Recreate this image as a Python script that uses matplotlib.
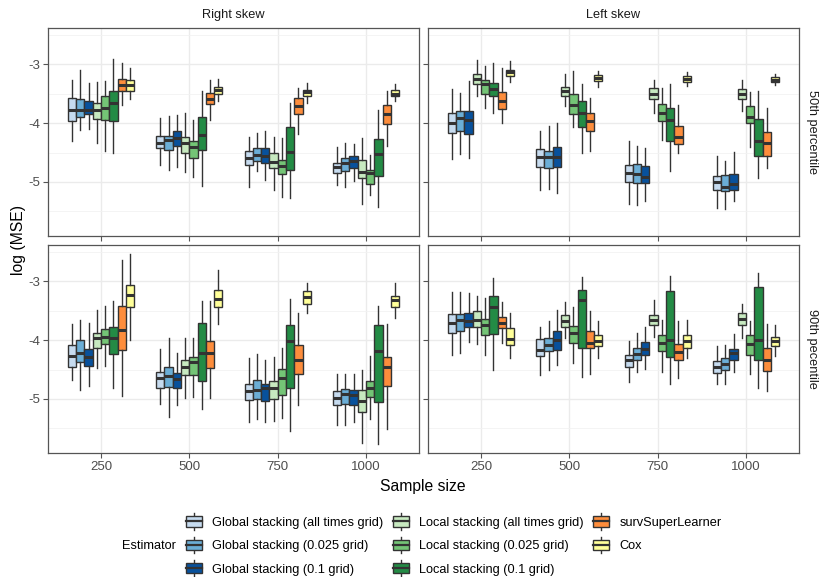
import matplotlib
matplotlib.use("Agg")
import matplotlib.pyplot as plt
from matplotlib.legend_handler import HandlerBase
from matplotlib.patches import Rectangle, Patch
from matplotlib.lines import Line2D
import numpy as np

plt.rcParams['font.family'] = ['Liberation Sans', 'DejaVu Sans']

sizes = ["250", "500", "750", "1000"]
estimators = ["Global stacking (all times grid)", "Global stacking (0.025 grid)",
              "Global stacking (0.1 grid)", "Local stacking (all times grid)",
              "Local stacking (0.025 grid)", "Local stacking (0.1 grid)",
              "survSuperLearner", "Cox"]
colors = ["#c6dbef", "#6baed6", "#08519c", "#c7e9c0", "#74c476", "#238b45",
          "#fd8d3c", "#ffff99"]
skews = ["Right skew", "Left skew"]
percentiles = ["50th percentile", "90th pecentile"]

# ---- Right skew, 50th percentile (rows: sample sizes, cols: estimators)
rs50_whishi = [[-3.27, -3.10, -3.31, -3.30, -3.29, -2.90, -2.98, -3.06],
               [-3.91, -3.87, -3.86, -3.83, -3.94, -3.45, -3.27, -3.24],
               [-4.24, -4.17, -4.13, -4.24, -4.25, -3.66, -3.40, -3.31],
               [-4.41, -4.33, -4.35, -4.25, -4.54, -3.77, -3.45, -3.34]]
rs50_q3 = [[-3.57, -3.58, -3.62, -3.65, -3.54, -3.46, -3.25, -3.27],
           [-4.22, -4.22, -4.14, -4.23, -4.30, -3.90, -3.49, -3.38],
           [-4.47, -4.42, -4.43, -4.50, -4.62, -4.07, -3.57, -3.43],
           [-4.67, -4.60, -4.56, -4.62, -4.80, -4.27, -3.69, -3.44]]
rs50_med = [[-3.77, -3.77, -3.77, -3.78, -3.75, -3.66, -3.35, -3.35],
            [-4.33, -4.29, -4.26, -4.34, -4.41, -4.20, -3.58, -3.43],
            [-4.59, -4.54, -4.56, -4.66, -4.73, -4.49, -3.71, -3.47],
            [-4.74, -4.67, -4.65, -4.83, -4.85, -4.53, -3.85, -3.50]]
rs50_q1 = [[-3.97, -3.90, -3.85, -3.93, -3.94, -3.97, -3.45, -3.45],
           [-4.43, -4.45, -4.38, -4.50, -4.59, -4.46, -3.67, -3.50],
           [-4.71, -4.65, -4.67, -4.77, -4.87, -4.80, -3.84, -3.53],
           [-4.84, -4.82, -4.76, -4.93, -5.03, -4.90, -4.01, -3.53]]
rs50_whislo = [[-4.30, -4.11, -4.10, -4.34, -4.47, -4.51, -3.69, -3.58],
               [-4.71, -4.79, -4.74, -4.83, -4.91, -5.07, -3.94, -3.63],
               [-5.09, -4.82, -4.97, -5.13, -5.26, -5.27, -4.18, -3.66],
               [-5.06, -5.09, -4.98, -5.37, -5.23, -5.43, -4.39, -3.63]]

# ---- Left skew, 50th percentile
ls50_whishi = [[-3.42, -3.49, -3.29, -2.93, -3.02, -2.98, -3.06, -2.95],
               [-4.14, -4.05, -4.00, -3.16, -3.11, -3.34, -3.57, -3.11],
               [-4.31, -4.39, -4.43, -3.27, -3.40, -3.34, -3.69, -3.13],
               [-4.56, -4.65, -4.49, -3.27, -3.47, -3.46, -3.75, -3.17]]
ls50_q3 = [[-3.83, -3.80, -3.80, -3.16, -3.26, -3.31, -3.47, -3.09],
           [-4.44, -4.47, -4.40, -3.38, -3.51, -3.63, -3.83, -3.18],
           [-4.71, -4.70, -4.73, -3.40, -3.67, -3.74, -4.05, -3.20],
           [-4.90, -4.89, -4.87, -3.41, -3.71, -3.93, -4.15, -3.22]]
ls50_med = [[-4.00, -3.91, -3.95, -3.25, -3.34, -3.41, -3.62, -3.13],
            [-4.58, -4.57, -4.57, -3.46, -3.69, -3.83, -3.97, -3.23],
            [-4.84, -4.87, -4.91, -3.50, -3.83, -3.94, -4.23, -3.25],
            [-5.00, -5.09, -5.03, -3.50, -3.89, -4.31, -4.34, -3.26]]
ls50_q1 = [[-4.17, -4.13, -4.19, -3.34, -3.50, -3.54, -3.76, -3.20],
           [-4.74, -4.77, -4.75, -3.54, -3.85, -4.07, -4.14, -3.29],
           [-5.00, -5.01, -5.02, -3.59, -3.96, -4.30, -4.36, -3.30],
           [-5.14, -5.15, -5.14, -3.59, -4.00, -4.56, -4.56, -3.30]]
ls50_whislo = [[-4.61, -4.53, -4.60, -3.54, -3.75, -3.82, -3.99, -3.30],
               [-5.13, -5.12, -5.18, -3.70, -4.07, -4.50, -4.47, -3.38],
               [-5.37, -5.40, -5.33, -3.83, -4.29, -4.82, -4.51, -3.36],
               [-5.45, -5.46, -5.33, -3.80, -4.40, -4.94, -4.77, -3.35]]

# ---- Right skew, 90th percentile
rs90_whishi = [[-3.73, -3.65, -3.71, -3.49, -3.42, -3.34, -2.64, -2.53],
               [-4.15, -3.97, -4.22, -3.97, -3.96, -3.34, -3.33, -2.80],
               [-4.30, -4.24, -4.34, -4.29, -4.14, -3.30, -3.54, -3.02],
               [-4.58, -4.58, -4.57, -4.50, -4.27, -3.42, -3.73, -3.02]]
rs90_q3 = [[-4.08, -4.00, -4.15, -3.88, -3.81, -3.78, -3.42, -3.06],
           [-4.54, -4.46, -4.55, -4.33, -4.29, -3.71, -4.01, -3.14],
           [-4.74, -4.68, -4.75, -4.70, -4.49, -3.74, -4.09, -3.17],
           [-4.86, -4.83, -4.84, -4.85, -4.69, -3.74, -4.29, -3.24]]
rs90_med = [[-4.27, -4.21, -4.28, -3.97, -3.94, -3.97, -3.82, -3.23],
            [-4.64, -4.61, -4.66, -4.46, -4.37, -4.21, -4.21, -3.30],
            [-4.87, -4.84, -4.82, -4.82, -4.65, -4.01, -4.33, -3.26],
            [-4.98, -4.91, -4.94, -5.04, -4.82, -4.18, -4.45, -3.31]]
rs90_q1 = [[-4.45, -4.37, -4.44, -4.14, -4.07, -4.24, -4.17, -3.43],
           [-4.81, -4.80, -4.81, -4.59, -4.59, -4.70, -4.47, -3.43],
           [-5.02, -5.00, -5.03, -5.00, -4.93, -4.81, -4.57, -3.38],
           [-5.11, -5.09, -5.11, -5.23, -4.97, -5.06, -4.78, -3.44]]
rs90_whislo = [[-4.67, -4.84, -4.78, -4.47, -4.44, -4.82, -4.95, -3.99],
               [-5.09, -5.31, -5.11, -4.98, -4.97, -5.17, -4.98, -3.73],
               [-5.40, -5.34, -5.40, -5.37, -5.33, -5.54, -5.10, -3.54],
               [-5.45, -5.45, -5.40, -5.75, -5.34, -5.77, -5.51, -3.62]]

# ---- Left skew, 90th percentile
ls90_whishi = [[-3.18, -3.18, -3.19, -3.24, -3.28, -2.95, -3.35, -3.54],
               [-3.78, -3.68, -3.48, -3.35, -3.44, -2.93, -3.50, -3.68],
               [-4.02, -3.87, -3.77, -3.31, -3.66, -2.91, -3.68, -3.65],
               [-4.10, -4.09, -3.90, -3.38, -3.68, -2.86, -3.73, -3.74]]
ls90_q3 = [[-3.55, -3.55, -3.54, -3.50, -3.64, -3.24, -3.60, -3.80],
           [-3.98, -3.97, -3.84, -3.57, -3.76, -3.15, -3.84, -3.91],
           [-4.25, -4.13, -4.03, -3.57, -3.91, -3.17, -4.06, -3.91],
           [-4.35, -4.31, -4.15, -3.54, -3.91, -3.09, -4.14, -3.94]]
ls90_med = [[-3.71, -3.66, -3.68, -3.66, -3.74, -3.43, -3.70, -3.98],
            [-4.17, -4.09, -3.99, -3.67, -3.88, -3.31, -4.04, -4.01],
            [-4.34, -4.24, -4.15, -3.66, -4.04, -4.00, -4.20, -4.02],
            [-4.46, -4.41, -4.22, -3.64, -4.07, -4.00, -4.33, -4.01]]
ls90_q1 = [[-3.87, -3.84, -3.78, -3.78, -3.91, -3.89, -3.79, -4.09],
           [-4.27, -4.18, -4.17, -3.77, -4.04, -4.13, -4.14, -4.10],
           [-4.45, -4.34, -4.26, -3.74, -4.18, -4.29, -4.34, -4.13],
           [-4.55, -4.51, -4.33, -3.74, -4.25, -4.34, -4.52, -4.10]]
ls90_whislo = [[-4.25, -4.22, -4.03, -4.07, -4.25, -4.51, -4.04, -4.30],
               [-4.59, -4.50, -4.43, -3.97, -4.39, -4.63, -4.57, -4.30],
               [-4.71, -4.54, -4.49, -3.94, -4.54, -4.75, -4.65, -4.31],
               [-4.75, -4.74, -4.54, -3.97, -4.57, -4.82, -4.86, -4.27]]

panels = {
    (0, 0): (rs50_whislo, rs50_q1, rs50_med, rs50_q3, rs50_whishi),
    (0, 1): (ls50_whislo, ls50_q1, ls50_med, ls50_q3, ls50_whishi),
    (1, 0): (rs90_whislo, rs90_q1, rs90_med, rs90_q3, rs90_whishi),
    (1, 1): (ls90_whislo, ls90_q1, ls90_med, ls90_q3, ls90_whishi),
}

W, H = 820, 577
fig = plt.figure(figsize=(W / 100, H / 100), dpi=100)
fig.patch.set_facecolor("white")

col_x = [(48, 419), (428, 799)]
row_y = [(28, 236), (245, 453)]

EDGE = "#333333"
LW = 1.0
dodge = 0.75
nb = len(estimators)
bw = dodge / nb

for (r, c), (lo, q1, med, q3, hi) in panels.items():
    x0, x1 = col_x[c]
    y0, y1 = row_y[r]
    ax = fig.add_axes([x0 / W, 1 - y1 / H, (x1 - x0) / W, (y1 - y0) / H])
    ax.set_xlim(0.4, len(sizes) + 0.6)
    ax.set_ylim(-5.92, -2.38)
    ax.set_yticks([-5, -4, -3])
    ax.set_yticks([-5.5, -4.5, -3.5, -2.5], minor=True)
    ax.set_xticks(np.arange(1, len(sizes) + 1))
    ax.grid(True, which="major", color="#ebebeb", lw=1.0, zorder=0)
    ax.grid(True, which="minor", axis="y", color="#f2f2f2", lw=0.6, zorder=0)
    ax.set_axisbelow(True)
    for sp in ax.spines.values():
        sp.set_color("#555555")
        sp.set_linewidth(0.9)
    ax.tick_params(which="major", length=3.5, width=0.8, color="#555555",
                   labelsize=9.5, labelcolor="#4d4d4d", pad=2)
    ax.tick_params(which="minor", length=0)
    if r == 1:
        ax.set_xticklabels(sizes)
    else:
        ax.set_xticklabels([])
    if c == 0:
        ax.set_yticklabels(["-5", "-4", "-3"])
    else:
        ax.set_yticklabels([])

    for j in range(nb):
        stats = []
        pos = []
        for g in range(len(sizes)):
            stats.append(dict(whislo=lo[g][j], q1=q1[g][j], med=med[g][j],
                              q3=q3[g][j], whishi=hi[g][j], fliers=[]))
            pos.append(g + 1 + (j - (nb - 1) / 2) * bw)
        ax.bxp(stats, positions=pos, widths=bw, patch_artist=True,
               showcaps=False, showfliers=False, manage_ticks=False,
               boxprops=dict(facecolor=colors[j], edgecolor=EDGE, linewidth=LW),
               whiskerprops=dict(color=EDGE, linewidth=LW),
               medianprops=dict(color=EDGE, linewidth=2.2, solid_capstyle="butt"))

    if r == 0:
        ax.text(0.5, 1.035, skews[c], transform=ax.transAxes, ha="center",
                va="bottom", fontsize=9.2, color="#1a1a1a")
    if c == 1:
        ax.text(1.018, 0.5, percentiles[r], transform=ax.transAxes, ha="left",
                va="center", rotation=-90, fontsize=9.2, color="#1a1a1a")

fig.text(423 / W, 1 - 487 / H, "Sample size", ha="center", va="center",
         fontsize=11.3, color="black")
fig.text(19 / W, 1 - 240 / H, "log (MSE)", ha="center", va="center",
         rotation=90, fontsize=11.3, color="black")


class BoxHandler(HandlerBase):
    def create_artists(self, legend, orig_handle, xdescent, ydescent, width,
                       height, fontsize, trans):
        fc = orig_handle.get_facecolor()
        bx0 = width * 0.04
        bwid = width * 0.92
        rect = Rectangle((bx0, -ydescent + height * 0.0), bwid, height * 1.0,
                         facecolor=fc, edgecolor=EDGE, linewidth=LW,
                         transform=trans)
        med_l = Line2D([bx0, bx0 + bwid], [height / 2 - ydescent] * 2,
                       color=EDGE, linewidth=1.6, transform=trans)
        cx = bx0 + bwid / 2
        w1 = Line2D([cx, cx], [-ydescent + height * 1.0, -ydescent + height * 1.3],
                    color=EDGE, linewidth=LW, transform=trans)
        w2 = Line2D([cx, cx], [-ydescent - height * 0.3, -ydescent],
                    color=EDGE, linewidth=LW, transform=trans)
        return [w1, w2, rect, med_l]


handles = [Patch(facecolor=col, edgecolor=EDGE) for col in colors]
leg = fig.legend(handles, estimators, ncol=3, loc="center left",
                 bbox_to_anchor=(176 / W, 1 - 546 / H), frameon=False,
                 fontsize=9.2, handler_map={Patch: BoxHandler()},
                 handlelength=1.35, handleheight=0.85, handletextpad=0.75,
                 columnspacing=0.7, labelspacing=0.85, borderpad=0.2)
fig.text(122 / W, 1 - 546 / H, "Estimator", ha="left", va="center",
         fontsize=9.2, color="black")

fig.savefig("out.png", dpi=100)
